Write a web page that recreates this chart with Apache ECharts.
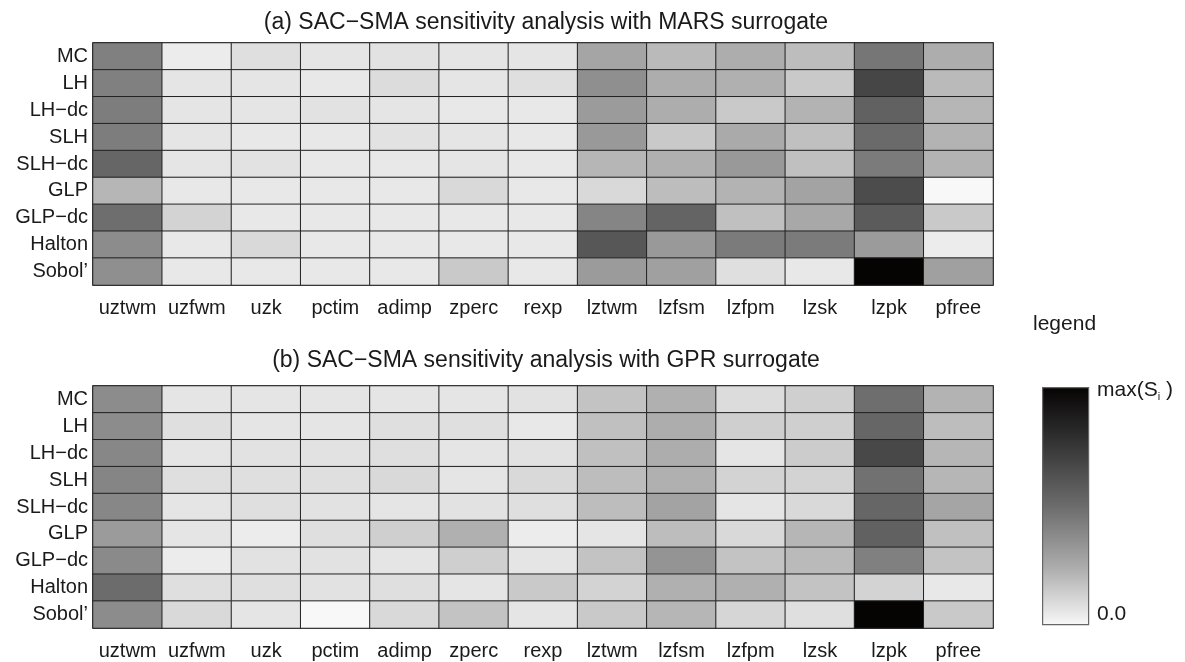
<!DOCTYPE html>
<html>
<head>
<meta charset="utf-8">
<script src="https://cdn.jsdelivr.net/npm/echarts@6/dist/echarts.min.js"></script>
<style>html,body{margin:0;padding:0;background:#fff}#c{width:1185px;height:662px}</style>
</head>
<body>
<div id="c"></div>
<script>
const params = ['uztwm','uzfwm','uzk','pctim','adimp','zperc','rexp','lztwm','lzfsm','lzfpm','lzsk','lzpk','pfree'];
const methods = ['MC','LH','LH\u2212dc','SLH','SLH\u2212dc','GLP','GLP\u2212dc','Halton',"Sobol\u2019"];

// (a) MARS surrogate, one row per sampling method (normalised S_i, 1 = max)
const marsValues = [
  [0.42,0.04,0.08,0.06,0.07,0.06,0.06,0.27,0.20,0.24,0.19,0.46,0.24],
  [0.42,0.06,0.06,0.05,0.09,0.06,0.08,0.36,0.24,0.23,0.15,0.68,0.20],
  [0.43,0.06,0.06,0.07,0.06,0.05,0.05,0.31,0.24,0.15,0.22,0.55,0.21],
  [0.43,0.06,0.05,0.05,0.07,0.06,0.05,0.32,0.15,0.25,0.18,0.51,0.22],
  [0.53,0.06,0.07,0.05,0.05,0.06,0.05,0.21,0.23,0.32,0.18,0.44,0.22],
  [0.21,0.05,0.05,0.05,0.05,0.10,0.05,0.10,0.19,0.22,0.28,0.65,0.00],
  [0.49,0.12,0.05,0.05,0.05,0.05,0.05,0.40,0.54,0.18,0.26,0.58,0.15],
  [0.37,0.05,0.10,0.05,0.05,0.05,0.05,0.60,0.32,0.44,0.44,0.31,0.04],
  [0.36,0.05,0.05,0.05,0.05,0.15,0.05,0.31,0.29,0.08,0.05,1.00,0.29]
];
// (b) GPR surrogate
const gprValues = [
  [0.37,0.06,0.06,0.06,0.06,0.06,0.07,0.17,0.23,0.09,0.13,0.49,0.22],
  [0.37,0.08,0.06,0.06,0.08,0.08,0.05,0.18,0.24,0.13,0.13,0.53,0.19],
  [0.39,0.06,0.07,0.07,0.08,0.06,0.07,0.18,0.24,0.06,0.14,0.67,0.21],
  [0.40,0.08,0.08,0.08,0.10,0.06,0.10,0.19,0.23,0.12,0.12,0.48,0.21],
  [0.39,0.06,0.08,0.07,0.06,0.07,0.08,0.19,0.28,0.06,0.10,0.53,0.27],
  [0.31,0.06,0.04,0.08,0.13,0.23,0.04,0.06,0.19,0.10,0.21,0.55,0.18],
  [0.38,0.04,0.07,0.07,0.06,0.13,0.06,0.17,0.34,0.17,0.20,0.42,0.17],
  [0.50,0.08,0.08,0.07,0.08,0.06,0.15,0.12,0.23,0.23,0.17,0.12,0.05],
  [0.37,0.10,0.06,0.00,0.10,0.17,0.06,0.15,0.21,0.11,0.08,1.00,0.15]
];
const titleA = '(a) SAC\u2212SMA sensitivity analysis with MARS surrogate';
const titleB = '(b) SAC\u2212SMA sensitivity analysis with GPR surrogate';
const greyRamp = ['#f8f8f8','#aaaaaa','#6c6c6c','#373737','#060303'];

function toCells(m){
  const out = [];
  m.forEach((row, r) => row.forEach((v, c) => out.push([c, r, v])));
  return out;
}

const FONT = 'Liberation Sans, Arial, sans-serif';
const TXT = '#1a1a1a';

function xAxis(gi){
  return {type:'category', gridIndex:gi, data:params,
    axisLine:{show:false}, axisTick:{show:false}, splitLine:{show:false},
    axisLabel:{fontFamily:FONT, fontSize:20, color:TXT, margin:13, interval:0}};
}
function yAxis(gi){
  return {type:'category', gridIndex:gi, data:methods, inverse:true,
    axisLine:{show:false}, axisTick:{show:false}, splitLine:{show:false},
    axisLabel:{fontFamily:FONT, fontSize:20, color:TXT, margin:5, interval:0}};
}

const gradStops = greyRamp.slice().reverse().map((c, i, a) => ({offset: i / (a.length - 1), color: c}));

const chart = echarts.init(document.getElementById('c'), null, {renderer:'canvas'});
chart.setOption({
  backgroundColor:'#fff',
  animation:false,
  title:[
    {text:titleA, left:541, textAlign:'center', top:6, textStyle:{fontFamily:FONT, fontSize:23, fontWeight:'normal', color:TXT}},
    {text:titleB, left:541, textAlign:'center', top:344, textStyle:{fontFamily:FONT, fontSize:23, fontWeight:'normal', color:TXT}}
  ],
  grid:[
    {left:93, top:43, width:900, height:242, show:true, borderColor:'#222', borderWidth:1.5, backgroundColor:'transparent'},
    {left:93, top:386, width:900, height:242, show:true, borderColor:'#222', borderWidth:1.5, backgroundColor:'transparent'}
  ],
  xAxis:[xAxis(0), xAxis(1)],
  yAxis:[yAxis(0), yAxis(1)],
  visualMap:{
    type:'continuous', min:0, max:1, seriesIndex:[0,1], show:false,
    inRange:{color:greyRamp}
  },
  graphic:[
    {type:'rect', left:1042, top:387, shape:{width:46, height:237},
      style:{fill:new echarts.graphic.LinearGradient(0,0,0,1,gradStops), stroke:'#666', lineWidth:1.2}, z:100},
    {type:'text', left:1033, top:314, style:{text:'legend', font:'21px ' + FONT, fill:TXT}},
    {type:'text', left:1097, top:380, style:{text:'max(S{s|i} )', font:'21px ' + FONT, fill:TXT,
      rich:{s:{fontSize:11, fontFamily:FONT, fill:TXT, padding:[13,0,0,0]}}}},
    {type:'text', left:1097, top:604, style:{text:'0.0', font:'21px ' + FONT, fill:TXT}}
  ],
  series:[
    {type:'heatmap', xAxisIndex:0, yAxisIndex:0, data:toCells(marsValues),
      itemStyle:{borderColor:'#222', borderWidth:1}, emphasis:{disabled:true}},
    {type:'heatmap', xAxisIndex:1, yAxisIndex:1, data:toCells(gprValues),
      itemStyle:{borderColor:'#222', borderWidth:1}, emphasis:{disabled:true}}
  ]
});
</script>
</body>
</html>
